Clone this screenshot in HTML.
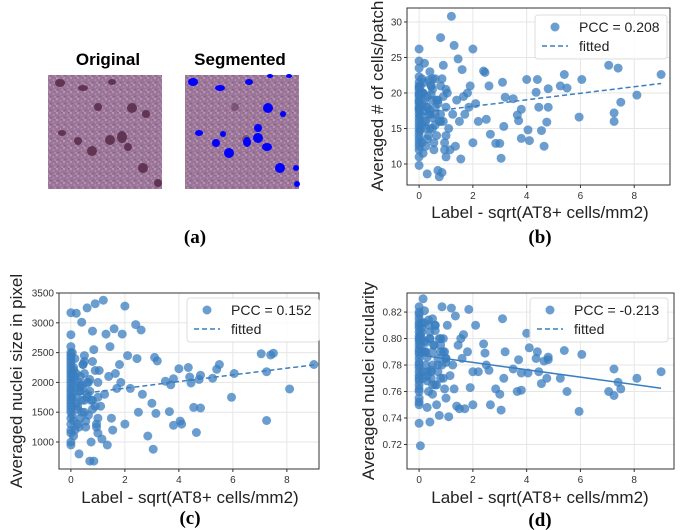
<!DOCTYPE html>
<html><head><meta charset="utf-8">
<style>
html,body{margin:0;padding:0;background:#fff;}
svg{display:block;font-family:"Liberation Sans",sans-serif;}
</style></head>
<body>
<svg id="fig" width="685" height="530" viewBox="0 0 685 530">
<defs>
<pattern id="tex" width="7" height="7" patternUnits="userSpaceOnUse">
<rect width="7" height="7" fill="#9c7699"/>
<circle cx="1" cy="1" r="0.9" fill="#c6a9c4"/>
<circle cx="4.5" cy="3" r="0.8" fill="#b895b6"/>
<circle cx="2" cy="5.5" r="0.7" fill="#7f5880"/>
<circle cx="6" cy="6" r="0.6" fill="#d2bcd0"/>
<circle cx="5.5" cy="0.5" r="0.5" fill="#86607f"/>
</pattern>
</defs>
<g>
<text x="108" y="65" text-anchor="middle" font-weight="bold" font-size="17">Original</text>
<text x="240" y="65" text-anchor="middle" font-weight="bold" font-size="17">Segmented</text>
<g>
<rect x="48" y="75" width="114" height="114" fill="url(#tex)"/>
<g fill="#5b2d4c" opacity="0.9">
<ellipse cx="60" cy="83" rx="5" ry="4"/><ellipse cx="83" cy="88" rx="5" ry="3"/><ellipse cx="112" cy="82" rx="4" ry="3"/>
<ellipse cx="132" cy="108" rx="5" ry="5"/><ellipse cx="146" cy="114" rx="4" ry="4"/><ellipse cx="110" cy="140" rx="5" ry="5"/>
<ellipse cx="122" cy="137" rx="5" ry="6"/><ellipse cx="92" cy="151" rx="5" ry="5"/><ellipse cx="128" cy="147" rx="4" ry="4"/>
<ellipse cx="62" cy="133" rx="4" ry="3"/><ellipse cx="78" cy="141" rx="4" ry="4"/><ellipse cx="143" cy="168" rx="5" ry="5"/>
<ellipse cx="158" cy="183" rx="4" ry="4"/><ellipse cx="98" cy="107" rx="4" ry="4"/>
</g></g>
<g>
<rect x="185" y="75" width="114" height="114" fill="url(#tex)"/>
<g fill="#5b2d4c" opacity="0.5">
<ellipse cx="235" cy="107" rx="4" ry="4"/><ellipse cx="246" cy="139" rx="4" ry="4"/>
</g>
<g fill="#0000ff">
<ellipse cx="193" cy="82" rx="5" ry="4"/><ellipse cx="220" cy="88" rx="5" ry="3"/><ellipse cx="249" cy="82" rx="4" ry="3"/>
<ellipse cx="268" cy="108" rx="5" ry="5"/><ellipse cx="283" cy="114" rx="3" ry="3"/><ellipse cx="258" cy="128" rx="4" ry="4"/>
<ellipse cx="258" cy="138" rx="5" ry="5"/><ellipse cx="229" cy="153" rx="5" ry="5"/><ellipse cx="267" cy="147" rx="5" ry="4"/>
<ellipse cx="199" cy="133" rx="4" ry="3"/><ellipse cx="216" cy="143" rx="4" ry="4"/><ellipse cx="247" cy="142" rx="4" ry="5"/>
<ellipse cx="223" cy="134" rx="3" ry="3"/><ellipse cx="280" cy="168" rx="5" ry="5"/><ellipse cx="296" cy="168" rx="3" ry="3"/>
<ellipse cx="297" cy="184" rx="3" ry="3"/><ellipse cx="270" cy="76" rx="3" ry="2"/><ellipse cx="289" cy="76" rx="3" ry="2"/>
</g></g>
<text x="195" y="243" text-anchor="middle" font-family="Liberation Serif,serif" font-weight="bold" font-size="19">(a)</text>
</g>
<g id="plots"></g>
</svg>
<script>
const xs = [
0,0,0,0,0,0,0,0,0,0,0,0,0,0,0,0,0,0,0,0,
0.05,0.1,0.1,0.15,0.2,0.2,0.25,0.3,0.3,0.35,0.4,0.4,0.45,0.5,0.5,0.55,0.6,0.6,0.65,0.7,
0.75,0.8,0.8,0.85,0.9,0.95,1.0,1.0,1.05,1.1,1.15,1.2,1.25,1.3,1.35,1.4,1.45,1.5,1.55,1.6,
0.1,0.2,0.3,0.4,0.5,0.6,0.7,0.8,0.9,1.0,0.05,0.15,0.25,0.35,0.45,0.55,0.65,0.75,0.85,0.95,
1.65,1.7,1.8,1.85,1.9,2.0,2.0,2.1,2.2,2.4,2.45,2.5,2.6,2.65,2.85,3.0,3.05,3.1,3.15,3.2,
3.5,3.65,3.7,3.8,3.8,4.0,4.05,4.1,4.35,4.4,4.45,4.55,4.65,4.75,4.8,4.8,5.25,5.4,5.5,5.95,
6.05,7.05,7.25,7.25,7.4,7.5,8.1,9.0,
0,0,0,0,0,0,0,0,0,0,0.1,0.1,0.2,0.2,0.3,0.3,0.4,0.5,0.5,0.6,0.7,0.8,0.9,1.0,0.15,0.25,0.35,0.45,0.05,0.05];
const cellsY = [
26.2,24.5,23.5,22.3,21,20.5,20,19.5,19,18.5,18,17.5,17,16,15,14,13,12,11,9.8,
21,22,13,20,24.2,19,16,8.6,18,14,23,17,21,15,19,12,22,18,14,9.1,
8.2,27.8,16,8.8,23.9,13,18,11,20,15,12,30.8,17,26.7,12.5,19,24.8,16,10.7,23.3,
20,16,18,15,22,17,19,21,16,14,18,20,15,17,21,13,19,16,22,12,
19.5,17,20,18,21,26.2,13,18.5,16,23.1,22.9,16.3,21,14.2,12.9,12.9,10.8,21.5,15.3,19.4,
19.2,16.9,16.1,17.7,13.6,21.9,14.8,13.3,20.1,21.9,18,14.7,12.5,15.9,18,20.6,21,22.6,20.7,16.6,
21.9,23.9,17.2,16,23.5,18.7,19.7,22.6,
21.5,20.8,19.8,18.8,17.8,16.5,15.5,14.5,13.5,12.5,18.5,15.5,17.5,21.5,19.5,13.5,17.5,16.5,20.5,15.5,18.5,17,19.5,20.5,11.5,12.5,21.8,19.8,16.8,14.8];
const sizeY = [
3170,2800,2600,2500,2400,2300,2200,2100,2000,1900,1800,1700,1600,1500,1400,1300,1200,1150,1000,950,
2500,2250,1100,2100,3160,1900,1600,800,2000,1400,3010,1700,2300,1500,2350,1250,3250,1800,1450,680,
1000,2860,1700,680,3320,1300,2000,1150,2200,1600,1050,3380,1800,2810,950,2100,2600,1400,1200,2900,
2200,1650,1950,1500,2450,1750,2050,2350,1600,1400,2150,2400,1550,1850,2300,1350,2000,1700,2550,1250,
2150,1900,2300,2000,2810,3280,1300,2450,1900,2970,2400,1500,2880,1800,1100,1650,880,2420,1480,2360,
2020,1510,1960,2060,1280,2230,1350,1300,2250,2090,1990,1580,1160,2050,1570,2120,2070,2220,2300,1750,
2150,2480,2180,1360,2460,2490,1890,2300,
2450,2350,2250,2150,2050,1950,1850,1750,1650,1550,2050,1350,1750,2150,1850,1250,1950,2150,1700,2000,1850,1550,2200,1750,1200,1300,2100,1900,1750,1450];
const circY = [
0.824,0.82,0.815,0.81,0.805,0.8,0.795,0.79,0.785,0.78,0.775,0.77,0.765,0.76,0.755,0.75,0.736,0.752,0.768,0.782,
0.719,0.812,0.80,0.83,0.79,0.821,0.78,0.772,0.748,0.76,0.737,0.805,0.775,0.815,0.758,0.795,0.765,0.81,0.75,0.785,
0.742,0.80,0.77,0.824,0.79,0.762,0.785,0.755,0.81,0.741,0.772,0.823,0.78,0.762,0.817,0.749,0.795,0.747,0.8,0.785,
0.805,0.79,0.775,0.8,0.765,0.81,0.78,0.795,0.77,0.785,0.8,0.775,0.79,0.81,0.77,0.795,0.765,0.8,0.78,0.79,
0.803,0.747,0.79,0.822,0.763,0.775,0.75,0.81,0.775,0.796,0.789,0.78,0.776,0.75,0.762,0.758,0.746,0.815,0.77,0.79,
0.777,0.76,0.784,0.774,0.761,0.804,0.774,0.793,0.785,0.79,0.775,0.766,0.783,0.77,0.784,0.786,0.77,0.791,0.76,0.745,
0.788,0.76,0.777,0.757,0.767,0.762,0.77,0.775,
0.818,0.812,0.808,0.802,0.798,0.792,0.788,0.778,0.772,0.762,0.808,0.79,0.798,0.812,0.786,0.768,0.8,0.79,0.78,0.806,0.775,0.79,0.8,0.782,0.77,0.797,0.814,0.776,0.803,0.795];
const xTicks = [0,2,4,6,8];
const cellsTicks = [10,15,20,25,30];
const sizeTicks = [1000,1500,2000,2500,3000,3500];
const circTicks = [0.72,0.74,0.76,0.78,0.80,0.82];
const circTickLabels = ["0.72","0.74","0.76","0.78","0.80","0.82"];
const fitCells = [17.2, 0.46];
const fitSize = [1790, 56];
const fitCirc = [0.7876, -0.00279];
const pccLabels = ["PCC = 0.208","PCC = 0.152","PCC = -0.213"];

const NS="http://www.w3.org/2000/svg";
const root=document.getElementById('plots');
function mk(tag,attrs,parent){const e=document.createElementNS(NS,tag);for(const k in attrs)e.setAttribute(k,attrs[k]);(parent||root).appendChild(e);return e;}

function panel(cfg){
  const g=mk('g',{});
  
  
  const {L,R,T,B,x0,x1,y0,y1}=cfg;
  const sx=v=>L+(v-x0)/(x1-x0)*(R-L);
  const sy=v=>B-(v-y0)/(y1-y0)*(B-T);
  xTicks.forEach(t=>{const l=mk('line',{x1:sx(t),x2:sx(t),y1:T,y2:B,stroke:'#e6e6e6','stroke-width':1},g);
    
    });
  cfg.yTicks.forEach(t=>{const l=mk('line',{x1:L,x2:R,y1:sy(t),y2:sy(t),stroke:'#e6e6e6','stroke-width':1},g);
    
    });
  const pts=mk('g',{fill:'#3a7ebf','fill-opacity':0.75},g);
  
  
  xs.forEach((x,i)=>{const c=mk('circle',{cx:sx(x).toFixed(1),cy:sy(cfg.ys[i]).toFixed(1),r:4.5},pts);
    
    });
  const fl=mk('line',{x1:sx(0),y1:sy(cfg.fit[0]),x2:sx(9),y2:sy(cfg.fit[0]+cfg.fit[1]*9),stroke:'#3a7ebf','stroke-width':1.5,'stroke-dasharray':cfg.dash?'5,3':'none'},g);
  
  
  const fr=mk('rect',{x:L,y:T,width:R-L,height:B-T,fill:'none',stroke:'#333','stroke-width':1},g);
  
  
  xTicks.forEach(t=>{mk('line',{x1:sx(t),x2:sx(t),y1:B,y2:B+3,stroke:'#333'},g);
    const tx=mk('text',{x:sx(t),y:B+14,'text-anchor':'middle','font-size':10,fill:'#333'},g);tx.textContent=t;
    
    });
  cfg.yTicks.forEach((t,i)=>{mk('line',{x1:L-3,x2:L,y1:sy(t),y2:sy(t),stroke:'#333'},g);
    const tx=mk('text',{x:L-5,y:sy(t)+3.5,'text-anchor':'end','font-size':10,fill:'#333'},g);tx.textContent=cfg.yLabels?cfg.yLabels[i]:t;
    
    });
  const xl=mk('text',{x:cfg.xlx,y:cfg.xly,'text-anchor':'middle','font-size':17,fill:'#222'},g);
  xl.textContent='Label - sqrt(AT8+ cells/mm2)';
  
  
  const yl=mk('text',{x:0,y:0,'text-anchor':'middle','font-size':17,fill:'#222',transform:`translate(${cfg.ylx},${cfg.yly}) rotate(-90)`},g);
  yl.textContent=cfg.ytitle;
  
  
  const lg=mk('g',{},g);
  
  
  const [lx,ly,lw]=cfg.leg;
  mk('rect',{x:lx,y:ly,width:lw,height:44,rx:3,fill:'#fff','fill-opacity':0.85,stroke:'#ddd'},lg);
  mk('circle',{cx:lx+20,cy:ly+12,r:4.5,fill:'#3a7ebf','fill-opacity':0.75},lg);
  const t1=mk('text',{x:lx+44,y:ly+17,'font-size':14,fill:'#222'},lg);t1.textContent=cfg.pcc;
  
  
  mk('line',{x1:lx+7,x2:lx+33,y1:ly+31,y2:ly+31,stroke:'#3a7ebf','stroke-width':1.5,'stroke-dasharray':'5,3'},lg);
  const t2=mk('text',{x:lx+44,y:ly+36,'font-size':14,fill:'#222'},lg);t2.textContent='fitted';
  
  
  const pl=mk('text',{x:cfg.plx,y:cfg.ply,'text-anchor':'middle','font-family':'Liberation Serif,serif','font-weight':'bold','font-size':19},g);
  pl.textContent=cfg.label;
  
  
}
panel({name:'panel-b-cells',L:407,R:670,T:8,B:185,x0:-0.45,x1:9.33,y0:7.04,y1:31.97,ys:cellsY,yTicks:cellsTicks,fit:fitCells,dash:true,
  ytitle:'Averaged # of cells/patch',ylx:383,yly:96,xlx:540,xly:218,leg:[535,15,132],pcc:pccLabels[0],label:'(b)',plx:540,ply:243});
panel({name:'panel-c-size',L:59,R:319,T:293,B:469,x0:-0.44,x1:9.19,y0:547,y1:3500,ys:sizeY,yTicks:sizeTicks,fit:fitSize,dash:true,
  ytitle:'Averaged nuclei size in pixel',ylx:22,yly:381,xlx:190,xly:503,leg:[187,298,132],pcc:pccLabels[1],label:'(c)',plx:190,ply:524});
panel({name:'panel-d-circularity',L:407,R:674,T:293,B:469,x0:-0.45,x1:9.48,y0:0.7015,y1:0.8344,ys:circY,yTicks:circTicks,yLabels:circTickLabels,fit:fitCirc,dash:false,
  ytitle:'Averaged nuclei circularity',ylx:374,yly:381,xlx:540,xly:503,leg:[530,298,138],pcc:pccLabels[2],label:'(d)',plx:540,ply:526});
</script>
</body></html>
